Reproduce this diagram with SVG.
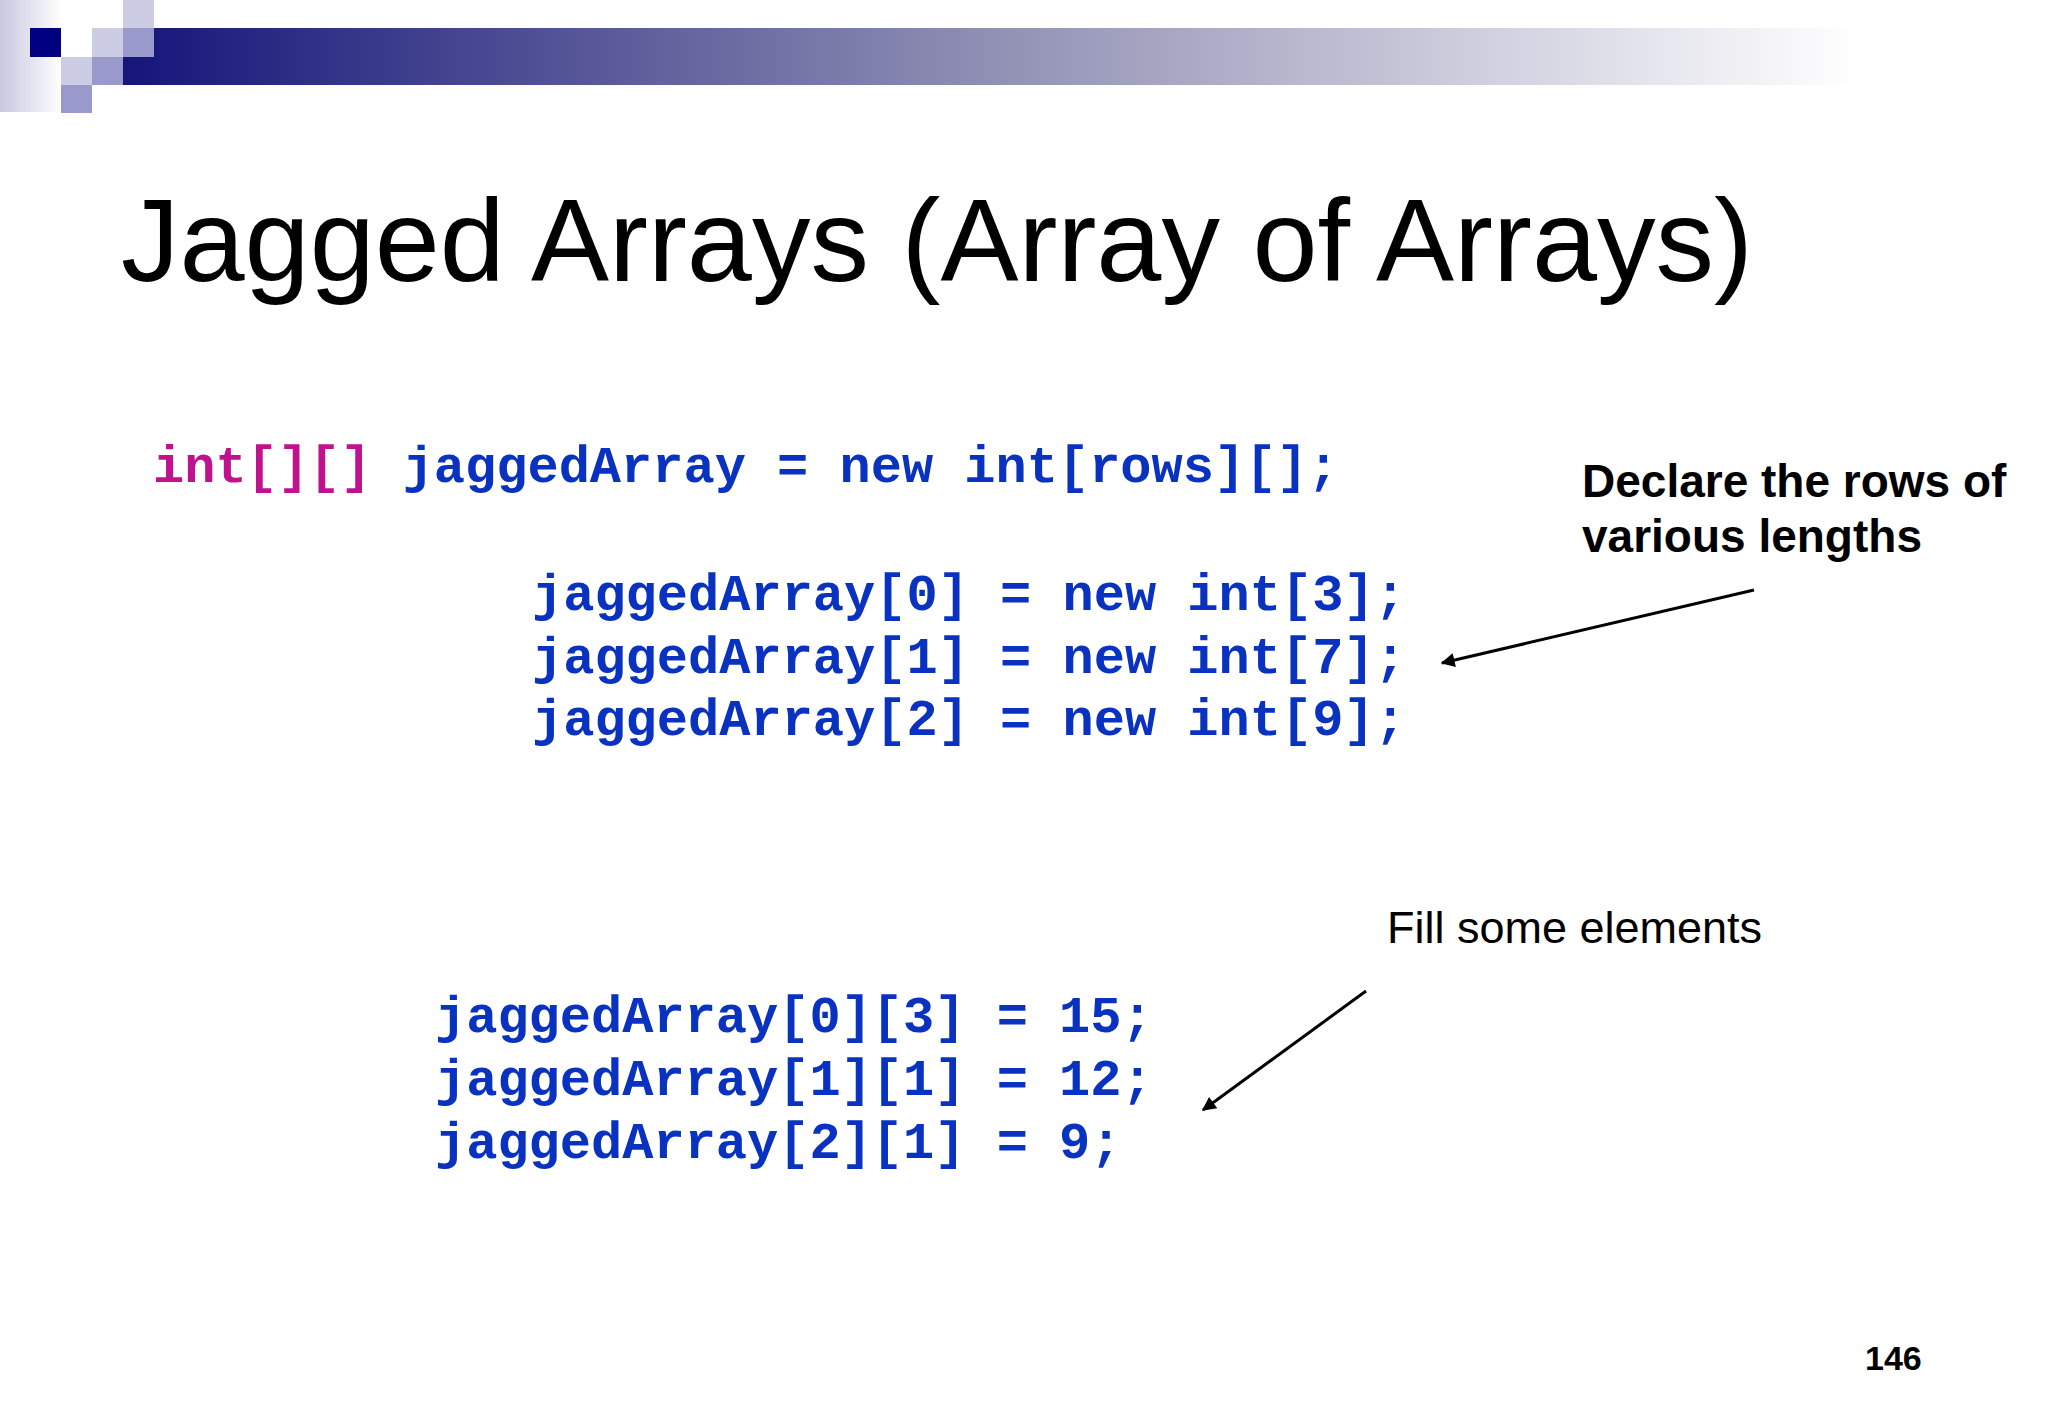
<svg xmlns="http://www.w3.org/2000/svg" width="2048" height="1418" viewBox="0 0 2048 1418">
<defs>
<linearGradient id="bar" x1="0" x2="1" y1="0" y2="0">
<stop offset="0" stop-color="#15157a"/><stop offset="0.45" stop-color="#9090b4"/><stop offset="0.9" stop-color="#ffffff"/>
</linearGradient>
<linearGradient id="side" x1="0" x2="1" y1="0" y2="0">
<stop offset="0" stop-color="#c8c8e0"/><stop offset="1" stop-color="#ffffff"/>
</linearGradient>
<marker id="ah" viewBox="0 0 10 10" refX="9" refY="5" markerWidth="20" markerHeight="14" markerUnits="userSpaceOnUse" orient="auto"><path d="M0,0 L10,5 L0,10 z" fill="#000"/></marker>
<style>
.code{font-family:"Liberation Mono","Courier New",monospace;font-weight:bold;font-size:52px;fill:#0a32c0;white-space:pre}
.kw{fill:#c0128f}
.note{font-family:"Liberation Sans",Arial,sans-serif;fill:#000}
</style>
</defs>
<rect width="2048" height="1418" fill="#fff"/>
<g id="header">
<rect x="0" y="0" width="62" height="112" fill="url(#side)"/>
<rect x="123" y="28" width="1925" height="57" fill="url(#bar)"/>
<rect x="30" y="28" width="31" height="29" fill="#000080"/>
<rect x="61" y="57" width="31" height="28" fill="#cccce4"/>
<rect x="92" y="28" width="31" height="29" fill="#cccce4"/>
<rect x="123" y="0" width="31" height="28" fill="#cccce4"/>
<rect x="123" y="28" width="31" height="29" fill="#9999cc"/>
<rect x="92" y="57" width="31" height="28" fill="#9999cc"/>
<rect x="61" y="85" width="31" height="28" fill="#9999cc"/>
</g>
<text x="121" y="281" font-family="Liberation Sans,Arial,sans-serif" font-size="117" fill="#000">Jagged Arrays (Array of Arrays)</text>
<g id="code1"><text class="code" x="153" y="482"><tspan class="kw">int[][]</tspan> jaggedArray = new int[rows][];</text></g>
<g id="code2">
<text class="code" x="532" y="610">jaggedArray[0] = new int[3];</text>
<text class="code" x="532" y="673">jaggedArray[1] = new int[7];</text>
<text class="code" x="532" y="735">jaggedArray[2] = new int[9];</text>
</g>
<g id="code3">
<text class="code" x="435" y="1032">jaggedArray[0][3] = 15;</text>
<text class="code" x="435" y="1095">jaggedArray[1][1] = 12;</text>
<text class="code" x="435" y="1158">jaggedArray[2][1] = 9;</text>
</g>
<g id="note1"><text class="note" font-size="46" font-weight="bold" x="1582" y="497">Declare the rows of</text><text class="note" font-size="46" font-weight="bold" x="1582" y="552">various lengths</text></g>
<g id="note2"><text class="note" font-size="45" x="1387" y="943">Fill some elements</text></g>
<g id="connectors" stroke="#000" stroke-width="3" fill="none">
<line x1="1754" y1="590" x2="1442" y2="663" marker-end="url(#ah)"/>
<line x1="1366" y1="991" x2="1203" y2="1110" marker-end="url(#ah)"/>
</g>
<text x="1865" y="1370" font-family="Liberation Sans,Arial,sans-serif" font-weight="bold" font-size="34" fill="#000">146</text>
</svg>
